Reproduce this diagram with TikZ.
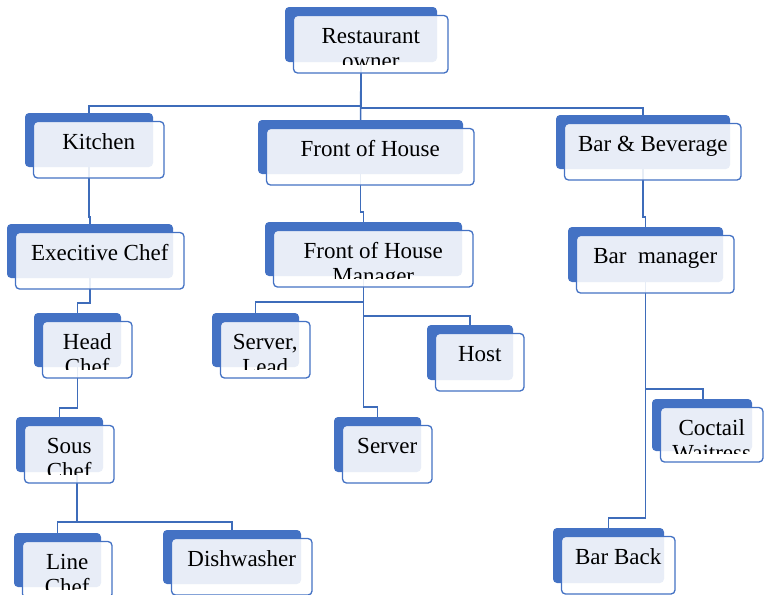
\documentclass[tikz,border=0pt]{standalone}
\usepackage{fontspec}
\setmainfont{Liberation Serif}
\definecolor{accent}{HTML}{4472C4}
\definecolor{connc}{HTML}{3E6CBA}
\tikzset{
  bluebox/.style={fill=accent, draw=none, rounded corners=4pt, inner sep=0pt, outer sep=0pt, anchor=north west},
  frontbox/.style={draw=accent, line width=1.3pt, fill=white, fill opacity=0.88, draw opacity=1, rounded corners=4pt, inner sep=0pt, outer sep=0pt, anchor=north west},
  txt/.style={inner sep=0pt, outer sep=0pt, anchor=base, text=black, font=\fontsize{23}{25}\selectfont},
  conn/.style={draw=connc, line width=1.5pt}
}
% #1 name, #2 x1, #3 y1, #4 x2, #5 y2 (blue box, pixels), #6 first line, #7 second line
\newcommand{\obox}[7]{%
  \node[bluebox, minimum width={(#4-#2)*1pt}, minimum height={(#5-#3)*1pt}] (#1b) at (#2,#3) {};
  \node[frontbox, minimum width={(#4-#2+2.5)*1pt}, minimum height={(#5-#3+2.5)*1pt}] (#1) at (#2+8.5,#3+8.5) {};
  \begin{scope}
    \clip (#2+8,#3+8) rectangle (#4+11,#5+2);
    \node[txt] (#1t) at ({(#2+#4)/2+9.75},{#3+36.5}) {#6};
    \if\relax\detokenize{#7}\relax\else
    \node[txt] (#1s) at ({(#2+#4)/2+9.75},{#3+61.5}) {#7};
    \fi
  \end{scope}
}
\begin{document}
\begin{tikzpicture}[x=1pt,y=-1pt]
\useasboundingbox (0,0) rectangle (764,595);
% connector anchors
\path
  (361,62) coordinate (ownerS) (89,113) coordinate (kitchenN) (360.5,120) coordinate (fohN) (643,115) coordinate (bbN)
  (89,167) coordinate (kitchenS) (90,224) coordinate (execN)
  (90,278) coordinate (execS) (77.5,313) coordinate (headN)
  (77.5,367) coordinate (headS) (59.5,417) coordinate (sousN)
  (77,472) coordinate (sousS) (57.5,533) coordinate (lineN) (232,530) coordinate (dishN)
  (360.5,174) coordinate (fohS) (363.5,222) coordinate (fohmN)
  (363.5,276) coordinate (fohmS) (255.5,313) coordinate (leadN) (470,325) coordinate (hostN) (377.5,417) coordinate (serverN)
  (643,169) coordinate (bbS) (645.5,227) coordinate (bmN)
  (645.5,282) coordinate (bmS) (703,399) coordinate (cwN) (608.5,528) coordinate (backN);
% connectors
\draw[conn] (ownerS) -- ++(0,44) -| (kitchenN);
\draw[conn] (ownerS) -- (fohN);
\draw[conn] (ownerS) -- ++(0,46) -| (bbN);
\draw[conn] (kitchenS) -- ++(0,50) -| (execN);
\draw[conn] (execS) -- ++(0,25) -| (headN);
\draw[conn] (headS) -- ++(0,41) -| (sousN);
\draw[conn] (sousS) -- ++(0,50) -| (lineN);
\draw[conn] (sousS) -- ++(0,50) -| (dishN);
\draw[conn] (fohS) -- ++(0,38) -| (fohmN);
\draw[conn] (fohmS) -- ++(0,26) -| (leadN);
\draw[conn] (fohmS) -- ++(0,40) -| (hostN);
\draw[conn] (fohmS) -- ++(0,131) -| (serverN);
\draw[conn] (bbS) -- ++(0,48) -| (bmN);
\draw[conn] (bmS) -- ++(0,107) -| (cwN);
\draw[conn] (bmS) -- ++(0,236) -| (backN);
% boxes
\obox{owner}{285}{7}{437}{62}{Restaurant}{owner}
\obox{kitchen}{25}{113}{153}{167}{Kitchen}{}
\obox{foh}{258}{120}{463}{174}{Front of House}{}
\obox{bb}{556}{115}{730}{169}{Bar \& Beverage}{}
\obox{exec}{7}{224}{173}{278}{Execitive Chef}{}
\obox{fohm}{265}{222}{462}{276}{Front of House}{Manager}
\obox{bm}{568}{227}{723}{282}{Bar\ \ manager}{}
\obox{head}{34}{313}{121}{367}{Head}{Chef}
\obox{lead}{212}{313}{299}{367}{Server,}{Lead}
\obox{host}{427}{325}{513}{380}{Host}{}
\obox{sous}{16}{417}{103}{472}{Sous}{Chef}
\obox{server}{334}{417}{421}{472}{Server}{}
\obox{cw}{652}{399}{752}{451}{Coctail}{Waitress}
\obox{line}{14}{533}{101}{587}{Line}{Chef}
\obox{dish}{163}{530}{301}{584}{Dishwasher}{}
\obox{back}{553}{528}{664}{583}{Bar Back}{}
\end{tikzpicture}
\end{document}
